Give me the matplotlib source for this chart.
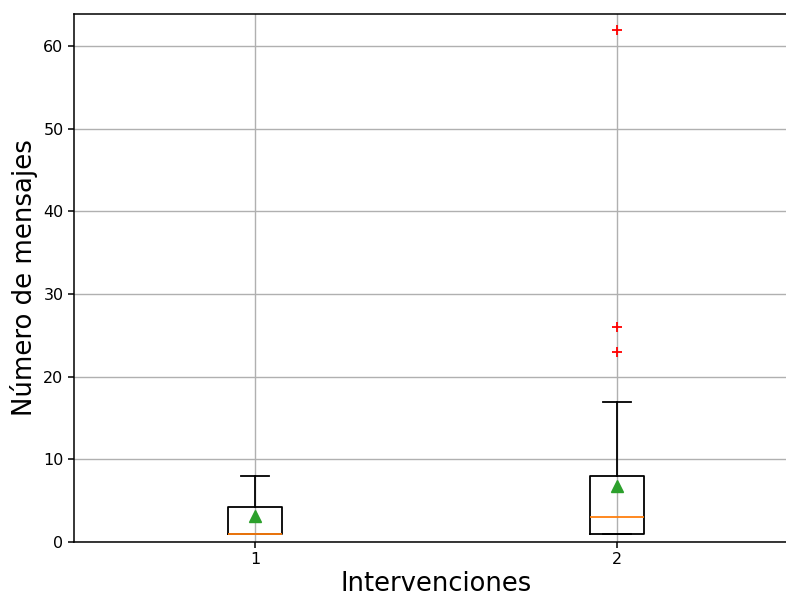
import matplotlib
matplotlib.use("Agg")
import matplotlib.pyplot as plt

labels = ["1", "2"]
q1 = [1, 1]
med = [1, 3]
q3 = [4.2, 8]
whislo = [1, 1]
whishi = [8, 17]
means = [3.1, 6.8]
fliers = [[], [23, 26, 62]]

stats = []
for i in range(len(labels)):
    stats.append(dict(label=labels[i], q1=q1[i], med=med[i], q3=q3[i],
                      whislo=whislo[i], whishi=whishi[i], mean=means[i],
                      fliers=fliers[i]))

W, H = 786, 597
fig = plt.figure(figsize=(W / 100, H / 100), dpi=100)
ax = fig.add_axes([74 / W, (H - 542) / H, 724 / W, 528 / H])
lw = 1.3
ax.bxp(stats, showmeans=True, widths=0.15,
       boxprops=dict(linewidth=lw),
       whiskerprops=dict(linewidth=lw),
       capprops=dict(linewidth=lw),
       medianprops=dict(linewidth=lw, color='C1'),
       meanprops=dict(marker='^', markerfacecolor='C2', markeredgecolor='C2', markersize=8.5),
       flierprops=dict(marker='+', markeredgecolor='red', linestyle='none',
                       markersize=7.5, markeredgewidth=1.3))
ax.set_xlim(0.5, 2.5)
ax.set_ylim(0, 63.9)
ax.grid(True, linewidth=1.0)
ax.set_axisbelow(True)
for s in ax.spines.values():
    s.set_linewidth(1.1)
ax.tick_params(labelsize=11.5, width=1.1, length=4)
ax.set_xlabel("Intervenciones", fontsize=18.5, labelpad=2.5)
ax.set_ylabel("Número de mensajes", fontsize=18.7)
fig.savefig("out.png", dpi=100)
